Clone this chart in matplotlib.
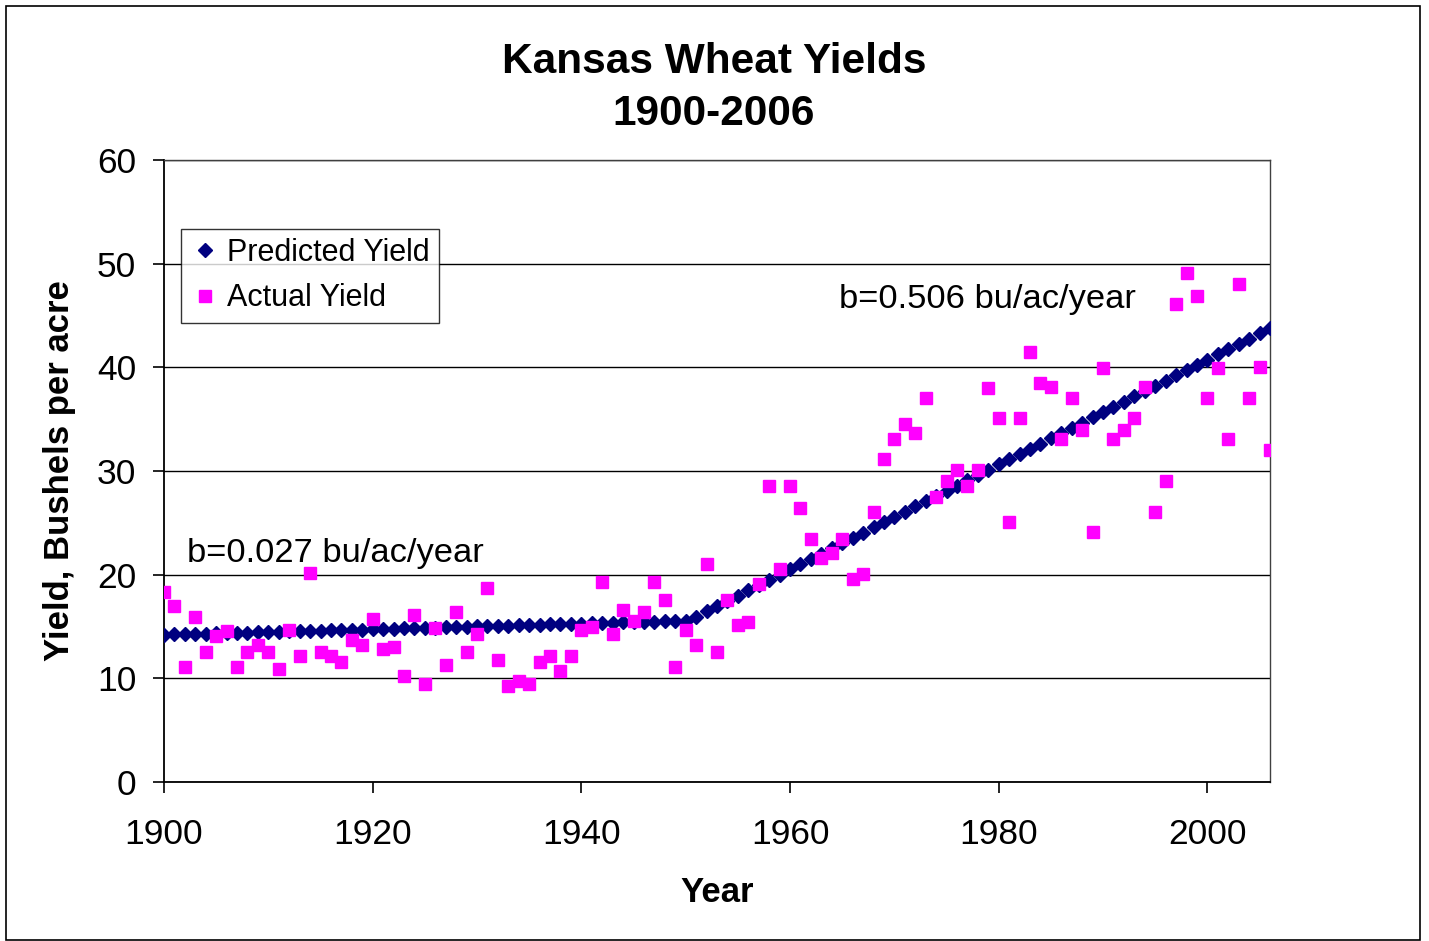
import matplotlib
matplotlib.use("Agg")
import matplotlib.pyplot as plt
from matplotlib.patches import Rectangle

plt.rcParams['font.family'] = ['Liberation Sans', 'DejaVu Sans']

years = list(range(1900, 2007))

actual_yield = [
    18.3, 17.0, 11.1, 15.9, 12.5, 14.1, 14.6, 11.1, 12.5, 13.2,
    12.5, 10.9, 14.7, 12.2, 20.2, 12.5, 12.2, 11.6, 13.7, 13.2,
    15.7, 12.8, 13.0, 10.2, 16.1, 9.5, 14.9, 11.3, 16.4, 12.5,
    14.3, 18.7, 11.8, 9.3, 9.7, 9.5, 11.6, 12.2, 10.7, 12.2,
    14.7, 15.0, 19.3, 14.3, 16.6, 15.5, 16.4, 19.3, 17.6, 11.1,
    14.7, 13.2, 21.0, 12.5, 17.6, 15.1, 15.4, 19.1, 28.6, 20.5,
    28.6, 26.4, 23.4, 21.6, 22.1, 23.4, 19.6, 20.1, 26.0, 31.2,
    33.1, 34.5, 33.7, 37.0, 27.5, 29.0, 30.1, 28.6, 30.1, 38.0,
    35.1, 25.1, 35.1, 41.5, 38.5, 38.1, 33.1, 37.0, 34.0, 24.1,
    39.9, 33.1, 34.0, 35.1, 38.1, 26.0, 29.0, 46.1, 49.1, 46.9,
    37.0, 39.9, 33.1, 48.0, 37.0, 40.0, 32.0,
]

predicted_yield = [
    14.20, 14.23, 14.25, 14.28, 14.31, 14.34, 14.36, 14.39, 14.42, 14.44,
    14.47, 14.50, 14.52, 14.55, 14.58, 14.61, 14.63, 14.66, 14.69, 14.71,
    14.74, 14.77, 14.79, 14.82, 14.85, 14.88, 14.90, 14.93, 14.96, 14.98,
    15.01, 15.04, 15.06, 15.09, 15.12, 15.15, 15.17, 15.20, 15.23, 15.25,
    15.28, 15.31, 15.33, 15.36, 15.39, 15.42, 15.44, 15.47, 15.50, 15.52,
    15.55, 15.95, 16.46, 16.96, 17.47, 17.97, 18.48, 18.99, 19.49, 20.00,
    20.51, 21.01, 21.52, 22.02, 22.53, 23.04, 23.54, 24.05, 24.55, 25.06,
    25.57, 26.07, 26.58, 27.08, 27.59, 28.10, 28.60, 29.11, 29.61, 30.12,
    30.63, 31.13, 31.64, 32.14, 32.65, 33.16, 33.66, 34.17, 34.67, 35.18,
    35.69, 36.19, 36.70, 37.20, 37.71, 38.22, 38.72, 39.23, 39.73, 40.24,
    40.75, 41.25, 41.76, 42.26, 42.77, 43.28, 43.78,
]

x_ticks = [1900, 1920, 1940, 1960, 1980, 2000]
y_ticks = [0, 10, 20, 30, 40, 50, 60]

fig = plt.figure(figsize=(14.29, 9.41), dpi=100)
ax = fig.add_axes([164/1429, 1-782/941, (1270-164)/1429, (782-160)/941])

ax.plot(years, predicted_yield, linestyle='none', marker='D', markersize=7.6,
        color='#000080', label='Predicted Yield', zorder=3)
ax.plot(years, actual_yield, linestyle='none', marker='s', markersize=9,
        color='#FF00FF', label='Actual Yield', zorder=4)

ax.set_xlim(1900, 2006)
ax.set_ylim(0, 60)
ax.set_xticks(x_ticks)
ax.set_yticks(y_ticks)
ax.tick_params(axis='both', direction='out', length=8, width=1.2, labelsize=25.5, colors='black')
ax.tick_params(axis='x', pad=18)
ax.tick_params(axis='y', pad=12)
ax.yaxis.grid(True, color='black', linewidth=1.0)
ax.set_axisbelow(True)
for s in ['left', 'bottom']:
    ax.spines[s].set_color('black')
    ax.spines[s].set_linewidth(1.3)
for s in ['top', 'right']:
    ax.spines[s].set_color('#404040')
    ax.spines[s].set_linewidth(1.0)

ax.set_xlabel('Year', fontsize=25, fontweight='bold', labelpad=18)
ax.set_ylabel('Yield, Bushels per acre', fontsize=25, fontweight='bold', labelpad=15)

fig.text(714/1429, 1-88/941, 'Kansas Wheat Yields\n1900-2006', ha='center', va='center',
         fontsize=30.5, fontweight='bold', linespacing=1.4)

ax.text(1902.2, 22.0, 'b=0.027 bu/ac/year', fontsize=24.8, ha='left', va='center')
ax.text(1964.7, 46.5, 'b=0.506 bu/ac/year', fontsize=24.8, ha='left', va='center')

leg = ax.legend(loc='upper left', bbox_to_anchor=((181-164)/1106, (782-229)/622),
                fontsize=22, frameon=True, fancybox=False, edgecolor='black',
                handletextpad=0.2, handlelength=1.0, borderpad=0.3, labelspacing=0.5,
                borderaxespad=0)
leg.get_frame().set_linewidth(1.0)

fig.patches.append(Rectangle((6/1429, 0.001), 1414/1429, 1-6/941-0.001, transform=fig.transFigure,
                             fill=False, edgecolor='black', linewidth=1.2))

fig.savefig('out.png', dpi=100)
